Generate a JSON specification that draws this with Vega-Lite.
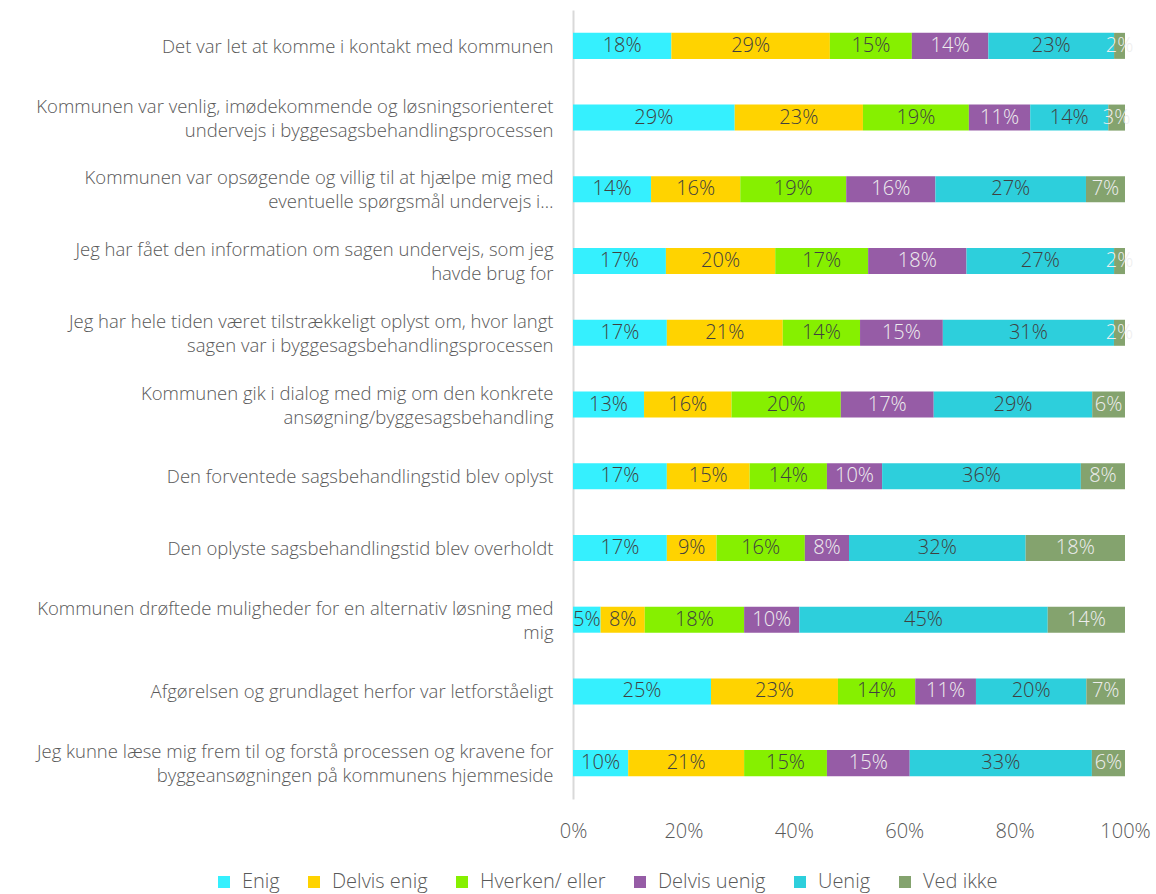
{
  "$schema": "https://vega.github.io/schema/vega-lite/v6.json",
  "autosize": {"type": "none"},
  "padding": {"left": 573, "top": 10, "right": 31, "bottom": 95},
  "width": 552,
  "height": 789,
  "config": {
    "view": {"stroke": null},
    "font": "Open Sans",
    "axis": {"labelFont": "Open Sans", "labelFontWeight": 300, "labelColor": "#595959"},
    "legend": {"labelFont": "Open Sans", "labelFontWeight": 300, "labelColor": "#595959"}
  },
  "data": {
    "values": [
      {"q": "Det var let at komme i kontakt med kommunen", "cat": "Enig", "p": 0.18},
      {"q": "Det var let at komme i kontakt med kommunen", "cat": "Delvis enig", "p": 0.29},
      {"q": "Det var let at komme i kontakt med kommunen", "cat": "Hverken/ eller", "p": 0.15},
      {"q": "Det var let at komme i kontakt med kommunen", "cat": "Delvis uenig", "p": 0.14},
      {"q": "Det var let at komme i kontakt med kommunen", "cat": "Uenig", "p": 0.23},
      {"q": "Det var let at komme i kontakt med kommunen", "cat": "Ved ikke", "p": 0.02},
      {"q": "Kommunen var venlig, imødekommende og løsningsorienteret\nundervejs i byggesagsbehandlingsprocessen", "cat": "Enig", "p": 0.29},
      {"q": "Kommunen var venlig, imødekommende og løsningsorienteret\nundervejs i byggesagsbehandlingsprocessen", "cat": "Delvis enig", "p": 0.23},
      {"q": "Kommunen var venlig, imødekommende og løsningsorienteret\nundervejs i byggesagsbehandlingsprocessen", "cat": "Hverken/ eller", "p": 0.19},
      {"q": "Kommunen var venlig, imødekommende og løsningsorienteret\nundervejs i byggesagsbehandlingsprocessen", "cat": "Delvis uenig", "p": 0.11},
      {"q": "Kommunen var venlig, imødekommende og løsningsorienteret\nundervejs i byggesagsbehandlingsprocessen", "cat": "Uenig", "p": 0.14},
      {"q": "Kommunen var venlig, imødekommende og løsningsorienteret\nundervejs i byggesagsbehandlingsprocessen", "cat": "Ved ikke", "p": 0.03},
      {"q": "Kommunen var opsøgende og villig til at hjælpe mig med\neventuelle spørgsmål undervejs i…", "cat": "Enig", "p": 0.14},
      {"q": "Kommunen var opsøgende og villig til at hjælpe mig med\neventuelle spørgsmål undervejs i…", "cat": "Delvis enig", "p": 0.16},
      {"q": "Kommunen var opsøgende og villig til at hjælpe mig med\neventuelle spørgsmål undervejs i…", "cat": "Hverken/ eller", "p": 0.19},
      {"q": "Kommunen var opsøgende og villig til at hjælpe mig med\neventuelle spørgsmål undervejs i…", "cat": "Delvis uenig", "p": 0.16},
      {"q": "Kommunen var opsøgende og villig til at hjælpe mig med\neventuelle spørgsmål undervejs i…", "cat": "Uenig", "p": 0.27},
      {"q": "Kommunen var opsøgende og villig til at hjælpe mig med\neventuelle spørgsmål undervejs i…", "cat": "Ved ikke", "p": 0.07},
      {"q": "Jeg har fået den information om sagen undervejs, som jeg\nhavde brug for", "cat": "Enig", "p": 0.17},
      {"q": "Jeg har fået den information om sagen undervejs, som jeg\nhavde brug for", "cat": "Delvis enig", "p": 0.20},
      {"q": "Jeg har fået den information om sagen undervejs, som jeg\nhavde brug for", "cat": "Hverken/ eller", "p": 0.17},
      {"q": "Jeg har fået den information om sagen undervejs, som jeg\nhavde brug for", "cat": "Delvis uenig", "p": 0.18},
      {"q": "Jeg har fået den information om sagen undervejs, som jeg\nhavde brug for", "cat": "Uenig", "p": 0.27},
      {"q": "Jeg har fået den information om sagen undervejs, som jeg\nhavde brug for", "cat": "Ved ikke", "p": 0.02},
      {"q": "Jeg har hele tiden været tilstrækkeligt oplyst om, hvor langt\nsagen var i byggesagsbehandlingsprocessen", "cat": "Enig", "p": 0.17},
      {"q": "Jeg har hele tiden været tilstrækkeligt oplyst om, hvor langt\nsagen var i byggesagsbehandlingsprocessen", "cat": "Delvis enig", "p": 0.21},
      {"q": "Jeg har hele tiden været tilstrækkeligt oplyst om, hvor langt\nsagen var i byggesagsbehandlingsprocessen", "cat": "Hverken/ eller", "p": 0.14},
      {"q": "Jeg har hele tiden været tilstrækkeligt oplyst om, hvor langt\nsagen var i byggesagsbehandlingsprocessen", "cat": "Delvis uenig", "p": 0.15},
      {"q": "Jeg har hele tiden været tilstrækkeligt oplyst om, hvor langt\nsagen var i byggesagsbehandlingsprocessen", "cat": "Uenig", "p": 0.31},
      {"q": "Jeg har hele tiden været tilstrækkeligt oplyst om, hvor langt\nsagen var i byggesagsbehandlingsprocessen", "cat": "Ved ikke", "p": 0.02},
      {"q": "Kommunen gik i dialog med mig om den konkrete\nansøgning/byggesagsbehandling", "cat": "Enig", "p": 0.13},
      {"q": "Kommunen gik i dialog med mig om den konkrete\nansøgning/byggesagsbehandling", "cat": "Delvis enig", "p": 0.16},
      {"q": "Kommunen gik i dialog med mig om den konkrete\nansøgning/byggesagsbehandling", "cat": "Hverken/ eller", "p": 0.20},
      {"q": "Kommunen gik i dialog med mig om den konkrete\nansøgning/byggesagsbehandling", "cat": "Delvis uenig", "p": 0.17},
      {"q": "Kommunen gik i dialog med mig om den konkrete\nansøgning/byggesagsbehandling", "cat": "Uenig", "p": 0.29},
      {"q": "Kommunen gik i dialog med mig om den konkrete\nansøgning/byggesagsbehandling", "cat": "Ved ikke", "p": 0.06},
      {"q": "Den forventede sagsbehandlingstid blev oplyst", "cat": "Enig", "p": 0.17},
      {"q": "Den forventede sagsbehandlingstid blev oplyst", "cat": "Delvis enig", "p": 0.15},
      {"q": "Den forventede sagsbehandlingstid blev oplyst", "cat": "Hverken/ eller", "p": 0.14},
      {"q": "Den forventede sagsbehandlingstid blev oplyst", "cat": "Delvis uenig", "p": 0.10},
      {"q": "Den forventede sagsbehandlingstid blev oplyst", "cat": "Uenig", "p": 0.36},
      {"q": "Den forventede sagsbehandlingstid blev oplyst", "cat": "Ved ikke", "p": 0.08},
      {"q": "Den oplyste sagsbehandlingstid blev overholdt", "cat": "Enig", "p": 0.17},
      {"q": "Den oplyste sagsbehandlingstid blev overholdt", "cat": "Delvis enig", "p": 0.09},
      {"q": "Den oplyste sagsbehandlingstid blev overholdt", "cat": "Hverken/ eller", "p": 0.16},
      {"q": "Den oplyste sagsbehandlingstid blev overholdt", "cat": "Delvis uenig", "p": 0.08},
      {"q": "Den oplyste sagsbehandlingstid blev overholdt", "cat": "Uenig", "p": 0.32},
      {"q": "Den oplyste sagsbehandlingstid blev overholdt", "cat": "Ved ikke", "p": 0.18},
      {"q": "Kommunen drøftede muligheder for en alternativ løsning med\nmig", "cat": "Enig", "p": 0.05},
      {"q": "Kommunen drøftede muligheder for en alternativ løsning med\nmig", "cat": "Delvis enig", "p": 0.08},
      {"q": "Kommunen drøftede muligheder for en alternativ løsning med\nmig", "cat": "Hverken/ eller", "p": 0.18},
      {"q": "Kommunen drøftede muligheder for en alternativ løsning med\nmig", "cat": "Delvis uenig", "p": 0.10},
      {"q": "Kommunen drøftede muligheder for en alternativ løsning med\nmig", "cat": "Uenig", "p": 0.45},
      {"q": "Kommunen drøftede muligheder for en alternativ løsning med\nmig", "cat": "Ved ikke", "p": 0.14},
      {"q": "Afgørelsen og grundlaget herfor var letforståeligt", "cat": "Enig", "p": 0.25},
      {"q": "Afgørelsen og grundlaget herfor var letforståeligt", "cat": "Delvis enig", "p": 0.23},
      {"q": "Afgørelsen og grundlaget herfor var letforståeligt", "cat": "Hverken/ eller", "p": 0.14},
      {"q": "Afgørelsen og grundlaget herfor var letforståeligt", "cat": "Delvis uenig", "p": 0.11},
      {"q": "Afgørelsen og grundlaget herfor var letforståeligt", "cat": "Uenig", "p": 0.20},
      {"q": "Afgørelsen og grundlaget herfor var letforståeligt", "cat": "Ved ikke", "p": 0.07},
      {"q": "Jeg kunne læse mig frem til og forstå processen og kravene for\nbyggeansøgningen på kommunens hjemmeside", "cat": "Enig", "p": 0.10},
      {"q": "Jeg kunne læse mig frem til og forstå processen og kravene for\nbyggeansøgningen på kommunens hjemmeside", "cat": "Delvis enig", "p": 0.21},
      {"q": "Jeg kunne læse mig frem til og forstå processen og kravene for\nbyggeansøgningen på kommunens hjemmeside", "cat": "Hverken/ eller", "p": 0.15},
      {"q": "Jeg kunne læse mig frem til og forstå processen og kravene for\nbyggeansøgningen på kommunens hjemmeside", "cat": "Delvis uenig", "p": 0.15},
      {"q": "Jeg kunne læse mig frem til og forstå processen og kravene for\nbyggeansøgningen på kommunens hjemmeside", "cat": "Uenig", "p": 0.33},
      {"q": "Jeg kunne læse mig frem til og forstå processen og kravene for\nbyggeansøgningen på kommunens hjemmeside", "cat": "Ved ikke", "p": 0.06}
    ]
  },
  "transform": [
    {"calculate": "indexof(['Enig','Delvis enig','Hverken/ eller','Delvis uenig','Uenig','Ved ikke'], datum.cat)", "as": "ord"},
    {"stack": "p", "groupby": ["q"], "sort": [{"field": "ord", "order": "ascending"}], "offset": "normalize", "as": ["x0", "x1"]},
    {"calculate": "(datum.x0 + datum.x1) / 2", "as": "xm"}
  ],
  "encoding": {
    "y": {
      "field": "q", "type": "nominal", "sort": null,
      "scale": {"paddingInner": 0.637, "paddingOuter": 0.3185},
      "axis": {
        "title": null, "ticks": false, "domain": true, "domainColor": "#d9d9d9", "domainWidth": 2,
        "labelExpr": "split(datum.label, '\\n')", "labelLimit": 600, "labelPadding": 20,
        "labelFontSize": 18.5, "labelLineHeight": 24, "labelAlign": "right", "labelBaseline": "middle",
        "labelOffset": {"condition": {"test": "indexof(datum.label, '\\n') >= 0", "value": -11}, "value": 1}
      }
    }
  },
  "layer": [
    {
      "mark": {"type": "bar"},
      "encoding": {
        "x": {
          "field": "x0", "type": "quantitative",
          "scale": {"domain": [0, 1]},
          "axis": {
            "title": null, "format": ".0%", "values": [0, 0.2, 0.4, 0.6, 0.8, 1],
            "grid": false, "ticks": false, "domain": false, "labelFlush": false,
            "labelFontSize": 20, "labelPadding": 22
          }
        },
        "x2": {"field": "x1"},
        "color": {
          "field": "cat", "type": "nominal",
          "scale": {
            "domain": ["Enig", "Delvis enig", "Hverken/ eller", "Delvis uenig", "Uenig", "Ved ikke"],
            "range": ["#35F0FE", "#FFD300", "#86F000", "#965CA6", "#2DCFDC", "#84A36E"]
          },
          "legend": {
            "title": null, "orient": "none", "direction": "horizontal",
            "legendX": -359, "legendY": 862,
            "symbolType": "square", "symbolSize": 144, "symbolStrokeWidth": 0,
            "labelFontSize": 20, "columnPadding": 24, "labelOffset": 8
          }
        }
      }
    },
    {
      "mark": {"type": "text", "fontSize": 20, "fontWeight": 300, "font": "Open Sans", "baseline": "middle", "align": "center"},
      "encoding": {
        "x": {"field": "xm", "type": "quantitative"},
        "text": {"field": "p", "type": "quantitative", "format": ".0%"},
        "color": {
          "condition": {"test": "datum.cat === 'Delvis uenig' || datum.cat === 'Ved ikke'", "value": "#eeeeee"},
          "value": "#404040"
        }
      }
    }
  ]
}
